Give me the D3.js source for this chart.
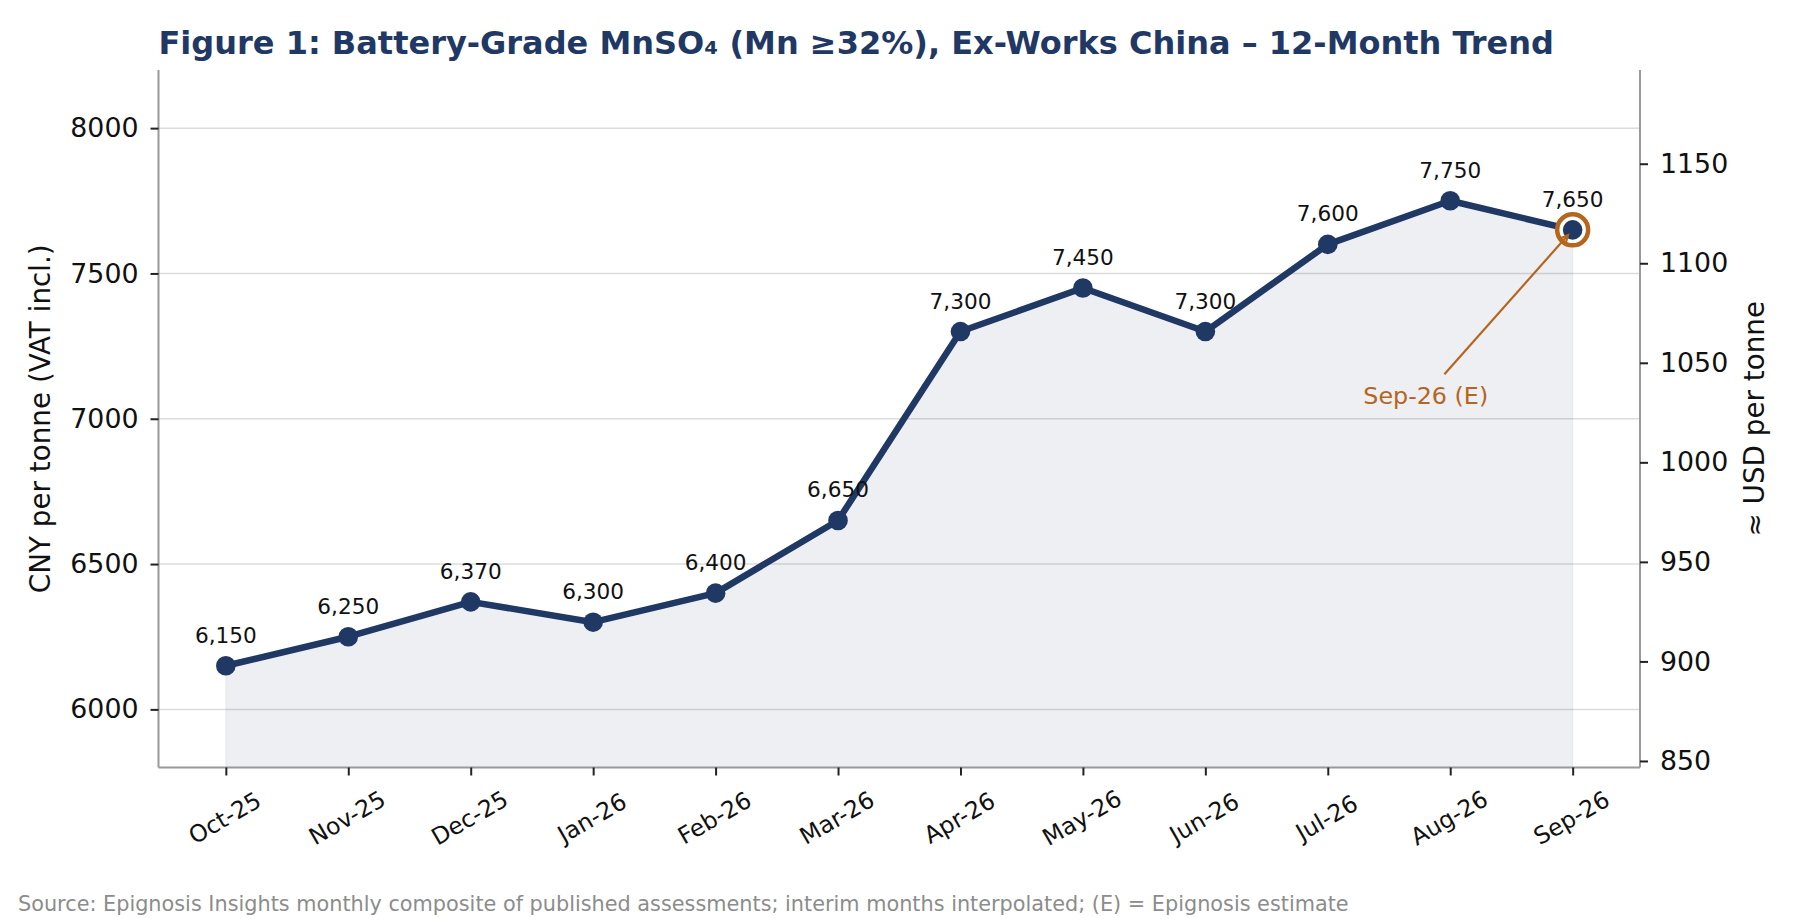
<!DOCTYPE html>
<html>
<head>
<meta charset="utf-8">
<script src="https://cdn.jsdelivr.net/npm/d3@7"></script>
<style>
  body { margin: 0; background: #fff; }
  svg text { font-family: "DejaVu Sans", sans-serif; }
</style>
</head>
<body>
<svg id="chart" width="1800" height="919"></svg>
<script>
  // data
  const months = ["Oct-25", "Nov-25", "Dec-25", "Jan-26", "Feb-26", "Mar-26",
                  "Apr-26", "May-26", "Jun-26", "Jul-26", "Aug-26", "Sep-26"];
  const priceCny = [6150, 6250, 6370, 6300, 6400, 6650, 7300, 7450, 7300, 7600, 7750, 7650];
  const leftTicks = [6000, 6500, 7000, 7500, 8000];
  const rightTicks = [850, 900, 950, 1000, 1050, 1100, 1150];
  const usdRate = 6.85; // CNY per USD used for the right axis

  const navy = "#1f3864";
  const accent = "#b5651d";

  const svg = d3.select("#chart");
  const plotLeft = 158.5, plotRight = 1640, plotTop = 70, plotBottom = 767.5;

  const x = d3.scaleLinear().domain([-0.55, months.length - 1 + 0.55]).range([plotLeft, plotRight]);
  const y = d3.scaleLinear().domain([5800, 8200]).range([plotBottom, plotTop]);
  const yUsd = d3.scaleLinear().domain([5800 / usdRate, 8200 / usdRate]).range([plotBottom, plotTop]);

  // gridlines
  svg.append("g").selectAll("line")
    .data(leftTicks)
    .enter().append("line")
    .attr("x1", plotLeft).attr("x2", plotRight)
    .attr("y1", d => y(d)).attr("y2", d => y(d))
    .attr("stroke", "#dcdcdc")
    .attr("stroke-width", 1.5);

  // area under the line
  const area = d3.area()
    .x((d, i) => x(i))
    .y0(y(5800))
    .y1(d => y(d));
  svg.append("path")
    .attr("d", area(priceCny))
    .attr("fill", navy)
    .attr("fill-opacity", 0.08)
    .attr("stroke", navy)
    .attr("stroke-opacity", 0.05)
    .attr("stroke-width", 1.5);

  // axes
  const xAxis = svg.append("g")
    .attr("transform", `translate(0,${plotBottom})`)
    .call(d3.axisBottom(x).tickValues(d3.range(months.length)).tickSize(8).tickFormat(""));
  const yAxis = svg.append("g")
    .attr("transform", `translate(${plotLeft},0)`)
    .call(d3.axisLeft(y).tickValues(leftTicks).tickSize(8).tickPadding(12).tickFormat(d3.format("d")));
  const yAxisR = svg.append("g")
    .attr("transform", `translate(${plotRight},0)`)
    .call(d3.axisRight(yUsd).tickValues(rightTicks).tickSize(8).tickPadding(12).tickFormat(d3.format("d")));

  [xAxis, yAxis, yAxisR].forEach(g => {
    g.select(".domain").attr("stroke", "#999").attr("stroke-width", 2);
    g.selectAll(".tick line").attr("stroke", "#222").attr("stroke-width", 2);
    g.selectAll(".tick text")
      .attr("font-family", "DejaVu Sans")
      .attr("font-size", 26.8)
      .attr("fill", "#111");
  });
  // spines without the outer ticks
  xAxis.select(".domain").attr("d", `M${plotLeft},0H${plotRight}`);
  yAxis.select(".domain").attr("d", `M0,${plotTop}V${plotBottom}`);
  yAxisR.select(".domain").attr("d", `M0,${plotTop}V${plotBottom}`);

  // rotated month labels
  svg.append("g").selectAll("text")
    .data(months)
    .enter().append("text")
    .attr("transform", (d, i) => `translate(${x(i) - 1},818) rotate(-30)`)
    .attr("text-anchor", "middle")
    .attr("dominant-baseline", "central")
    .attr("font-size", 23.5)
    .attr("fill", "#111")
    .text(d => d);

  // line and markers
  const line = d3.line().x((d, i) => x(i)).y(d => y(d));
  svg.append("path")
    .attr("d", line(priceCny))
    .attr("fill", "none")
    .attr("stroke", navy)
    .attr("stroke-width", 6.5)
    .attr("stroke-linejoin", "round");

  // highlight ring for the estimate
  const last = priceCny.length - 1;
  svg.append("circle")
    .attr("cx", x(last)).attr("cy", y(priceCny[last]))
    .attr("r", 15.5)
    .attr("fill", "#fff")
    .attr("stroke", accent)
    .attr("stroke-width", 4.5);

  svg.append("g").selectAll("circle")
    .data(priceCny)
    .enter().append("circle")
    .attr("cx", (d, i) => x(i))
    .attr("cy", d => y(d))
    .attr("r", 9.8)
    .attr("fill", navy);

  // value labels
  svg.append("g").selectAll("text")
    .data(priceCny)
    .enter().append("text")
    .attr("x", (d, i) => x(i))
    .attr("y", d => y(d) - 23)
    .attr("text-anchor", "middle")
    .attr("font-size", 21.6)
    .attr("fill", "#111")
    .text(d => d3.format(",")(d));

  // annotation
  const tx = x(9.8), ty = y(7050);
  svg.append("text")
    .attr("x", tx).attr("y", ty)
    .attr("text-anchor", "middle")
    .attr("font-size", 23.8)
    .attr("fill", accent)
    .text("Sep-26 (E)");

  const px = x(last), py = y(priceCny[last]);
  const cx0 = tx, cy0 = ty - 9;
  const dx = px - cx0, dy = py - cy0, len = Math.hypot(dx, dy);
  const ux = dx / len, uy = dy / len;
  const t0 = (ty - 30 - cy0) / uy;
  const sx = cx0 + ux * t0, sy = cy0 + uy * t0;
  const ex = px - ux * 7, ey = py - uy * 7;
  svg.append("line")
    .attr("x1", sx).attr("y1", sy).attr("x2", ex).attr("y2", ey)
    .attr("stroke", accent).attr("stroke-width", 2.2);
  const ang = Math.atan2(uy, ux), hl = 10, ha = 0.45;
  svg.append("path")
    .attr("d", `M${ex - hl * Math.cos(ang - ha)},${ey - hl * Math.sin(ang - ha)}L${ex},${ey}L${ex - hl * Math.cos(ang + ha)},${ey - hl * Math.sin(ang + ha)}`)
    .attr("fill", "none")
    .attr("stroke", accent)
    .attr("stroke-width", 2.2);

  // axis titles
  svg.append("text")
    .attr("transform", `translate(50,${(plotTop + plotBottom) / 2}) rotate(-90)`)
    .attr("text-anchor", "middle")
    .attr("font-size", 27.8)
    .attr("fill", "#111")
    .text("CNY per tonne (VAT incl.)");
  svg.append("text")
    .attr("transform", `translate(1764,${(plotTop + plotBottom) / 2}) rotate(-90)`)
    .attr("text-anchor", "middle")
    .attr("font-size", 27.8)
    .attr("fill", "#111")
    .text("≈ USD per tonne");

  // title and source
  svg.append("text")
    .attr("x", plotLeft).attr("y", 53.5)
    .attr("font-size", 32)
    .attr("font-weight", "bold")
    .attr("fill", navy)
    .text("Figure 1: Battery-Grade MnSO₄ (Mn ≥32%), Ex-Works China – 12-Month Trend");
  svg.append("text")
    .attr("x", 18).attr("y", 910.5)
    .attr("font-size", 20.8)
    .attr("fill", "#8c8c8c")
    .text("Source: Epignosis Insights monthly composite of published assessments; interim months interpolated; (E) = Epignosis estimate");
</script>
</body>
</html>
